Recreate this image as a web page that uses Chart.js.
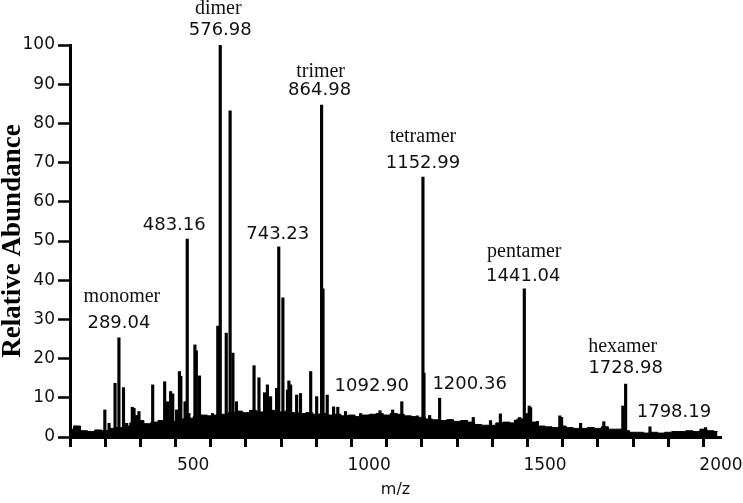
<!DOCTYPE html>
<html>
<head>
<meta charset="utf-8">
<script src="https://cdn.jsdelivr.net/npm/chart.js@4.4.1/dist/chart.umd.min.js"></script>
<style>
  html, body { margin: 0; padding: 0; background: #fff; }
  #wrap { width: 743px; height: 503px; }
</style>
</head>
<body>
<div id="wrap"><canvas id="msChart" width="743" height="503"></canvas></div>
<script>
// peaks: m/z and relative abundance (%)
const peakMz = [166, 249, 261, 278, 289.04, 302, 311, 327, 332, 339, 346, 385, 419, 427, 436, 442, 453, 461, 465, 477,
  483.16, 488, 505, 509, 518, 535, 555, 570, 576.98, 594, 605, 613, 623, 632, 652, 668, 673, 687, 703, 711,
  720, 737, 743.23, 755, 768, 772, 777, 794, 805, 834, 851, 864.98, 869, 881, 899, 911, 933, 976, 1031, 1067,
  1092.90, 1137, 1152.99, 1156, 1172, 1200.36, 1231, 1296, 1345, 1373, 1416, 1428, 1441.04, 1447, 1455, 1459, 1478,
  1542, 1547, 1601, 1667, 1721, 1728.98, 1798.19, 1956];
const peakAbundance = [2.8, 6.9, 3.5, 13.7, 25.3, 12.6, 3.5, 7.6, 7.3, 5.5, 6.5, 13.3, 14.1, 9.0, 11.6, 11.0, 6.9, 16.7, 15.5, 9.0,
  50.5, 6.0, 23.5, 22.0, 15.6, 5.5, 6.0, 28.3, 100, 26.5, 83.2, 21.4, 9.0, 6.5, 6.0, 6.0, 18.2, 15.1, 11.3, 13.3,
  10.3, 12.4, 48.5, 35.5, 12.0, 14.3, 13.3, 10.7, 11.1, 16.7, 10.3, 84.7, 37.8, 10.7, 7.7, 7.6, 6.5, 6.0, 6.7, 6.9,
  9.0, 5.4, 66.3, 16.3, 5.5, 9.9, 4.5, 5.0, 4.2, 5.9, 4.3, 5.0, 37.8, 6.0, 7.9, 7.5, 4.0,
  5.4, 5.0, 3.5, 3.9, 7.9, 13.5, 2.6, 2.4];

// baseline noise envelope
const noiseMz = [150, 170, 190, 210, 230, 250, 270, 290, 310, 330, 350, 370, 390, 410, 430, 450, 470, 490, 510, 530,
  550, 570, 590, 610, 630, 650, 670, 690, 710, 730, 750, 770, 790, 810, 830, 850, 870, 890, 910, 930,
  950, 970, 990, 1010, 1030, 1050, 1070, 1090, 1110, 1130, 1150, 1170, 1190, 1210, 1230, 1250, 1270, 1290, 1310, 1330,
  1350, 1370, 1390, 1410, 1430, 1450, 1470, 1490, 1510, 1530, 1550, 1570, 1590, 1610, 1630, 1650, 1670, 1690, 1710, 1730,
  1750, 1770, 1790, 1810, 1830, 1850, 1870, 1890, 1910, 1930, 1950, 1970, 1990];
const noiseLevel = [2.0, 2.8, 1.6, 1.4, 1.8, 1.6, 2.2, 2.4, 2.8, 3.6, 4.2, 3.4, 3.8, 4.2, 4.4, 4.0, 4.6, 4.8, 5.2, 5.6,
  5.4, 5.6, 5.8, 6.2, 6.6, 6.2, 6.8, 6.4, 6.6, 6.8, 6.4, 6.6, 6.2, 6.0, 6.2, 5.8, 6.0, 5.6, 5.8, 5.4,
  5.6, 5.2, 5.6, 5.8, 6.0, 5.6, 6.0, 5.8, 5.4, 5.2, 5.0, 4.6, 4.4, 4.2, 4.4, 4.0, 4.2, 3.8, 3.2, 3.0,
  3.0, 3.6, 3.8, 3.6, 4.6, 5.0, 3.8, 2.8, 2.6, 2.4, 2.8, 2.4, 2.2, 2.2, 2.4, 2.2, 2.6, 2.0, 2.0, 1.6,
  1.2, 1.2, 1.0, 1.2, 1.0, 1.2, 1.4, 1.4, 1.6, 1.4, 2.0, 1.6, 1.4];

const xTickValues = [200, 300, 400, 500, 600, 700, 800, 900, 1000, 1100, 1200, 1300, 1400, 1500, 1600, 1700, 1800, 1900, 2000];
const xLabeledTicks = [500, 1000, 1500, 2000];
const yTickValues = [0, 10, 20, 30, 40, 50, 60, 70, 80, 90, 100];

// annotated peaks
const labelMz = [289.04, 483.16, 576.98, 743.23, 864.98, 1092.90, 1152.99, 1200.36, 1441.04, 1728.98, 1798.19];
const labelText = ['289.04', '483.16', '576.98', '743.23', '864.98', '1092.90', '1152.99', '1200.36', '1441.04', '1728.98', '1798.19'];
const labelName = ['monomer', '', 'dimer', '', 'trimer', '', 'tetramer', '', 'pentamer', 'hexamer', ''];

// where each label sits relative to its peak top: [dx number, up number, dx name, up name]
const labelPlace = [
  [0, 14, 3, 41], [-13, 14, 0, 0], [0, 15, -2, 36], [-1, 13, 0, 0], [-2, 15, -1, 33],
  [-30, 15, 0, 0], [0, 14, 0, 40], [30, 14, 0, 0], [-1, 12, 0, 37], [0, 16, -3, 37], [24, 14, 0, 0]
];

const peakLabels = {
  id: 'peakLabels',
  afterDatasetsDraw(chart) {
    const c = chart.ctx;
    const xs = chart.scales.x, ys = chart.scales.y;
    c.save();
    c.fillStyle = '#111';
    c.textAlign = 'center';
    c.textBaseline = 'middle';
    labelMz.forEach((mz, i) => {
      const k = peakMz.indexOf(mz);
      const px = xs.getPixelForValue(mz);
      const top = ys.getPixelForValue(peakAbundance[k]);
      const p = labelPlace[i];
      c.font = '18px "DejaVu Sans"';
      c.fillText(labelText[i], px + p[0], top - p[1]);
      if (labelName[i]) {
        c.font = '20px "Liberation Serif"';
        c.fillText(labelName[i], px + p[2], top - p[3]);
      }
    });
    c.restore();
  }
};

document.addEventListener('DOMContentLoaded', () => {
  const ctx = document.getElementById('msChart').getContext('2d');

  const peaks = peakMz.map((x, i) => ({ x: x, y: peakAbundance[i] }));
  const noise = noiseMz.map((x, i) => ({ x: x, y: noiseLevel[i] }));

  new Chart(ctx, {
    type: 'bar',
    data: {
      datasets: [
        {
          type: 'bar',
          data: peaks,
          backgroundColor: '#000',
          borderWidth: 0,
          barThickness: 2.5,
          order: 1
        },
        {
          type: 'line',
          data: noise,
          stepped: 'middle',
          fill: 'origin',
          backgroundColor: '#000',
          borderColor: '#000',
          borderWidth: 1,
          pointRadius: 0,
          order: 2
        }
      ]
    },
    options: {
      responsive: false,
      animation: false,
      layout: { padding: { top: 45, right: 22, bottom: 0, left: 0 } },
      plugins: {
        legend: { display: false },
        tooltip: { enabled: false }
      },
      scales: {
        x: {
          type: 'linear',
          min: 150,
          max: 2000,
          offset: false,
          afterBuildTicks: s => { s.ticks = xTickValues.map(v => ({ value: v })); },
          afterFit: s => { s.height = 66; s.paddingRight = 0; s.paddingLeft = 0; },
          ticks: {
            autoSkip: false,
            maxRotation: 0,
            padding: 8,
            color: '#111',
            font: { family: 'DejaVu Sans', size: 17 },
            callback: v => xLabeledTicks.includes(v) ? String(v) : ''
          },
          grid: { drawOnChartArea: false, drawTicks: true, tickLength: 10, tickWidth: 3, tickColor: '#000' },
          border: { color: '#000', width: 3 },
          title: {
            display: true,
            text: 'm/z',
            color: '#111',
            font: { family: 'DejaVu Sans', size: 16 },
            padding: { top: 0, bottom: 4 }
          }
        },
        y: {
          min: 0,
          max: 100,
          afterBuildTicks: s => { s.ticks = yTickValues.map(v => ({ value: v })); },
          afterFit: s => { s.width = 70; },
          ticks: {
            padding: 3,
            color: '#111',
            font: { family: 'DejaVu Sans', size: 17 }
          },
          grid: { drawOnChartArea: false, drawTicks: true, tickLength: 12, tickWidth: 2.5, tickColor: '#000' },
          border: { color: '#000', width: 3 },
          title: {
            display: true,
            text: 'Relative Abundance',
            color: '#000',
            font: { family: 'Liberation Serif', size: 27, weight: 'bold', lineHeight: 1 },
            padding: { top: 0, bottom: 0 }
          }
        }
      }
    },
    plugins: [peakLabels]
  });
});
</script>
</body>
</html>
